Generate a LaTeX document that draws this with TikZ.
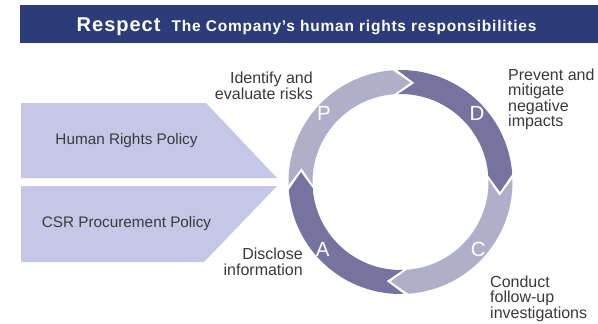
\documentclass[tikz,border=0pt]{standalone}
\usepackage{fontspec}
\setmainfont{Liberation Sans}
\newfontfamily\bannerfont[LetterSpace=5]{Liberation Sans}
\usetikzlibrary{calc}

\definecolor{bannerblue}{HTML}{2B3C78}
\definecolor{policyfill}{HTML}{C5C7E6}
\definecolor{ringlight}{HTML}{B0AFCA}
\definecolor{ringdark}{HTML}{76739F}
\definecolor{labelgray}{HTML}{3A3A3A}

% ring geometry (pt): outer, middle and inner radius,
% half depth of the chevron joints and half width of the gaps (degrees)
\def\ringout{112pt}
\def\ringmid{100pt}
\def\ringin{88pt}
\def\jointhalf{4.85}
\def\gaphalf{1.2}

% one arrow of the cycle, running clockwise from angle #1 to angle #2
\newcommand\cyclearrow[3]{%
  \fill[#3]
    ({#1+\jointhalf-\gaphalf}:\ringout)
      arc[start angle={#1+\jointhalf-\gaphalf}, end angle={#2+\jointhalf+\gaphalf}, radius=\ringout]
    -- ({#2-\jointhalf+\gaphalf}:\ringmid)
    -- ({#2+\jointhalf+\gaphalf}:\ringin)
      arc[start angle={#2+\jointhalf+\gaphalf}, end angle={#1+\jointhalf-\gaphalf}, radius=\ringin]
    -- ({#1-\jointhalf-\gaphalf}:\ringmid)
    -- cycle;}

\tikzset{
  steplabel/.style={font=\fontsize{16}{15.5}\selectfont, text=labelgray, inner sep=0pt},
  policytext/.style={font=\fontsize{15.3}{17}\selectfont, text=labelgray, inner sep=0pt},
  ringletter/.style={font=\fontsize{20.5}{20}\selectfont, text=white, inner sep=0pt},
  bannertext/.style={text=white, inner sep=0pt, anchor=base west},
}

\begin{document}
\begin{tikzpicture}[x=1pt, y=1pt]
  \useasboundingbox (0,0) rectangle (598,-324);
  \fill[white] (0,0) rectangle (598,-324);

  % title banner
  \node[fill=bannerblue, minimum width=578pt, minimum height=38pt, inner sep=0pt,
        anchor=north west] (banner) at (20,-5) {};
  \node[bannertext, font=\bannerfont\bfseries\fontsize{20}{22}\selectfont]
    (respect) at (76.5,-31.3) {Respect};
  \node[bannertext, font=\bannerfont\bfseries\fontsize{15.5}{17}\selectfont]
    (subtitle) at (171.5,-31.3) {The Company’s human rights responsibilities};

  % policy arrows feeding the cycle
  \fill[policyfill] (21,-103) -- (206,-103) -- (277,-178) -- (21,-178) -- cycle;
  \fill[policyfill] (21,-186) -- (277,-186) -- (204,-262) -- (21,-262) -- cycle;
  \node[policytext] (hrpolicy) at (126.5,-140.5) {Human Rights Policy};
  \node[policytext] (csrpolicy) at (126.5,-223.5) {CSR Procurement Policy};

  % PDCA cycle
  \begin{scope}[shift={(400.5,-182)}]
    \cyclearrow{178}{88}{ringlight}
    \cyclearrow{88}{-2}{ringdark}
    \cyclearrow{-2}{-92}{ringlight}
    \cyclearrow{-92}{-182}{ringdark}
    \node[ringletter] (plan) at (138:103pt) {P};
    \node[ringletter] (do) at (42:103pt) {D};
    \node[ringletter] (check) at (-41:103pt) {C};
    \node[ringletter] (act) at (-139:103pt) {A};
  \end{scope}

  % step descriptions (anchored at the baseline of their last line)
  \node[steplabel, align=right, anchor=base east] (identify) at (313,-99)
    {Identify and\\evaluate risks};
  \node[steplabel, align=left, anchor=base west] (prevent) at (508,-126.7)
    {Prevent and\\mitigate\\negative\\impacts};
  \node[steplabel, align=left, anchor=base west] (conduct) at (490,-318)
    {Conduct\\follow-up\\investigations};
  \node[steplabel, align=right, anchor=base east] (disclose) at (303,-275)
    {Disclose\\information};
\end{tikzpicture}
\end{document}
